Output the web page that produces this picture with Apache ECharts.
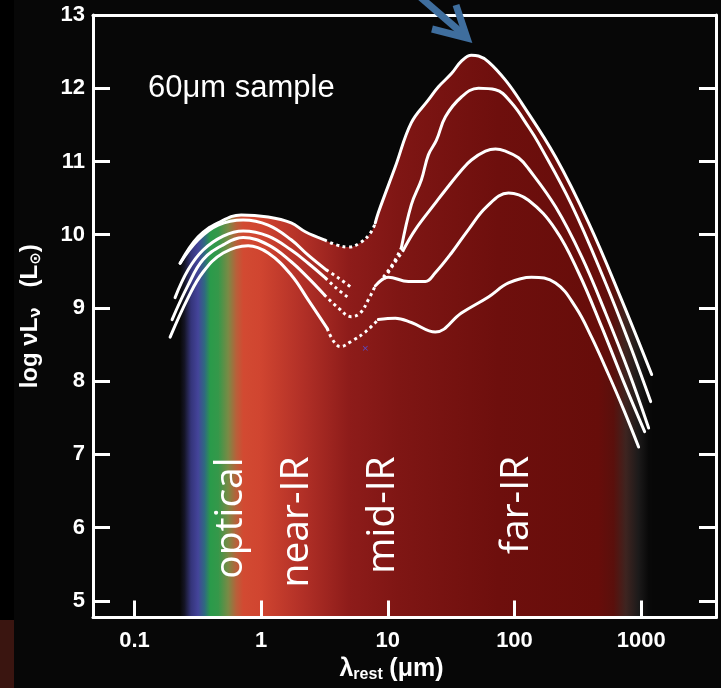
<!DOCTYPE html>
<html><head><meta charset="utf-8">
<script src="https://cdn.jsdelivr.net/npm/echarts@6/dist/echarts.min.js"></script>
<style>html,body{margin:0;padding:0;background:#070707;}#c{width:721px;height:688px;}</style>
</head><body><div id="c"></div>
<script>
// ---- axis settings / tick labels ----
const X_MIN = 0.047, X_MAX = 3900;     // wavelength (micron), log axis
const Y_MIN = 4.77, Y_MAX = 13;        // log nu L_nu (L_sun)
const xTickLabels = {'-1':'0.1','0':'1','1':'10','2':'100','3':'1000'};
const yTickLabels = ['5','6','7','8','9','10','11','12','13'];
const regionNames = ['optical','near-IR','mid-IR','far-IR'];

// ---- curves: [lambda_rest (micron), log nuLnu] ----
// A (top, highest far-IR peak)
const A_optNir = [[0.229,9.61],[0.318,9.97],[0.457,10.16],[0.695,10.27],[1.136,10.24],[1.726,10.16],[2.23,10.04],[3.15,9.93]];
const A_mir    = [[3.15,9.93],[3.92,9.86],[4.87,9.83],[6.06,9.89],[7.27,10.02],[7.96,10.16]];
const A_fir    = [[7.96,10.16],[8.41,10.30],[11.47,10.93],[15.34,11.53],[20.9,11.84],[25.1,12.02],[31.8,12.20],[38.1,12.37],[45.7,12.45],[52.0,12.44],[62.3,12.36],[84.9,12.11],[113.6,11.80],[211,11.06],[385,10.16],[701,9.11],[1211,8.09]];
// B
const B_optNir = [[0.229,9.61],[0.318,9.93],[0.457,10.13],[0.721,10.20],[1.136,10.13],[1.726,9.93],[2.35,9.72],[3.26,9.52]];
const B_mirA   = [[3.26,9.52],[4.06,9.41],[5.05,9.29]];
const B_mirB   = [[9.21,9.42],[11.05,9.61],[12.79,9.82]];
const B_fir    = [[12.79,9.82],[15.34,10.41],[18.41,10.75],[20.9,11.09],[24.2,11.29],[28.5,11.61],[38.1,11.88],[51.9,12.00],[70.8,11.98],[94.6,11.80],[129.1,11.47],[154.9,11.25],[282,10.41],[524,9.34],[797,8.54],[1189,7.72]];
// C
const C_optNir = [[0.209,9.14],[0.265,9.52],[0.348,9.79],[0.501,9.98],[0.721,10.05],[1.136,9.98],[1.726,9.79],[2.35,9.61],[3.21,9.41]];
const C_mirA   = [[3.21,9.41],[3.92,9.27],[4.79,9.15]];
const C_mirB   = [[9.38,9.40],[11.05,9.59],[13.26,9.79]];
const C_fir    = [[13.26,9.79],[16.49,10.07],[23.7,10.43],[28.5,10.61],[38.1,10.88],[45.7,11.02],[59.0,11.14],[70.8,11.17],[84.9,11.14],[107.6,11.05],[129.1,10.90],[211,10.38],[339,9.70],[524,8.93],[797,8.13],[1146,7.36]];
// D
const D_optNir = [[0.198,8.84],[0.265,9.31],[0.348,9.66],[0.501,9.86],[0.721,9.96],[1.136,9.86],[1.726,9.63],[2.35,9.41],[3.15,9.18]];
const D_mir    = [[3.15,9.18],[4.06,9.00],[5.15,8.88],[6.06,8.93],[7.01,9.11],[7.96,9.30]];
const D_fir    = [[7.96,9.30],[10.09,9.42],[14.53,9.36],[19.78,9.36],[23.7,9.48],[31.8,9.75],[43.3,10.07],[60.1,10.38],[89.7,10.57],[129.1,10.47],[211,10.07],[321,9.48],[488,8.74],[728,7.99],[1066,7.31]];
// E (lowest far-IR)
const E_optNir = [[0.191,8.60],[0.265,9.14],[0.348,9.49],[0.501,9.75],[0.789,9.85],[1.136,9.75],[1.726,9.45],[2.35,9.11],[3.32,8.72]];
const E_mir    = [[3.32,8.72],[4.21,8.47],[5.34,8.56],[6.64,8.67],[8.41,8.84]];
const E_fir    = [[8.41,8.84],[11.47,8.86],[15.34,8.80],[23.7,8.67],[38.1,8.93],[62.3,9.15],[89.7,9.34],[136.2,9.42],[211,9.34],[304,9.01],[406,8.60],[553,8.09],[728,7.61],[955,7.10]];
// stray marker
const strayPoint = [[6.64,8.45]];

const envelope = A_optNir.concat(A_mir.slice(1), A_fir.slice(1));

const SM = 0.4;
function solid(d){return {type:'line',data:d,smooth:SM,symbol:'none',silent:true,animation:false,z:5,
  lineStyle:{color:'#ffffff',width:3,cap:'round'}};}
function dotted(d){return {type:'line',data:d,smooth:SM,symbol:'none',silent:true,animation:false,z:5,
  lineStyle:{color:'#ffffff',width:3,type:[3,3.5],cap:'butt'}};}

const fillGrad = new echarts.graphic.LinearGradient(0,0,1,0,[
  {offset:0,color:'#080808'},{offset:0.009,color:'#141424'},{offset:0.023,color:'#34347a'},
  {offset:0.038,color:'#44449a'},{offset:0.052,color:'#2f6a80'},{offset:0.064,color:'#2a9a4a'},
  {offset:0.081,color:'#35984a'},{offset:0.102,color:'#7a8a45'},{offset:0.119,color:'#b8603a'},
  {offset:0.134,color:'#d24a32'},{offset:0.17,color:'#d04530'},{offset:0.25,color:'#b53228'},
  {offset:0.357,color:'#8e1c1a'},{offset:0.463,color:'#7f1614'},{offset:0.675,color:'#6e0f0d'},
  {offset:0.887,color:'#670d0a'},{offset:0.919,color:'#5a100c'},{offset:0.945,color:'#3e2420'},
  {offset:0.972,color:'#1c1a1a'},{offset:0.994,color:'#080808'},{offset:1,color:'#080808'}]);

const series = [
  {type:'line',data:envelope,smooth:SM,symbol:'none',silent:true,animation:false,z:1,
   lineStyle:{width:0,color:'rgba(0,0,0,0)'},areaStyle:{color:fillGrad,opacity:1,origin:'start'}},
  solid(A_optNir),dotted(A_mir),solid(A_fir),
  solid(B_optNir),dotted(B_mirA),dotted(B_mirB),solid(B_fir),
  solid(C_optNir),dotted(C_mirA),dotted(C_mirB),solid(C_fir),
  solid(D_optNir),dotted(D_mir),solid(D_fir),
  solid(E_optNir),dotted(E_mir),solid(E_fir),
  {type:'scatter',data:strayPoint,symbol:'path://M0,1L1,0L5,4L9,0L10,1L6,5L10,9L9,10L5,6L1,10L0,9L4,5Z',
   symbolSize:5,itemStyle:{color:'#4a5cff'},silent:true,animation:false,z:6}
];

const lblFont = {color:'#ffffff',fontFamily:'Liberation Sans',fontWeight:'bold',fontSize:22};
const axisLine = {show:true,onZero:false,lineStyle:{color:'#ffffff',width:3}};
const tick = {show:true,inside:true,length:17,lineStyle:{color:'#ffffff',width:3}};

const option = {
  backgroundColor:'#070707',
  animation:false,
  grid:{left:93,top:15,right:5,bottom:70,containLabel:false},
  xAxis:[
    {type:'log',logBase:10,min:X_MIN,max:X_MAX,position:'bottom',z:10,
     axisLine:axisLine,axisTick:tick,splitLine:{show:false},minorTick:{show:false},
     axisLabel:Object.assign({margin:12,showMinLabel:false,showMaxLabel:false,
       formatter:function(v){const l=Math.log10(v);const e=Math.round(l);
         if(Math.abs(l-e)>0.01)return '';return xTickLabels[String(e)]||'';}},lblFont),
     name:'{l|λ}{s|rest}  {l|(μm)}',nameLocation:'middle',nameGap:34,
     nameTextStyle:{padding:[0,26,0,0],rich:{
       l:{color:'#fff',fontFamily:'Liberation Sans',fontWeight:'bold',fontSize:25,lineHeight:28},
       s:{color:'#fff',fontFamily:'Liberation Sans',fontWeight:'bold',fontSize:16,lineHeight:16,verticalAlign:'bottom'}}}},
    {type:'log',logBase:10,min:X_MIN,max:X_MAX,position:'top',z:10,
     axisLine:axisLine,axisTick:{show:false},axisLabel:{show:false},splitLine:{show:false}}
  ],
  yAxis:[
    {type:'value',min:Y_MIN,max:Y_MAX,splitNumber:8,position:'left',z:10,
     axisLine:axisLine,axisTick:tick,splitLine:{show:false},
     axisLabel:Object.assign({margin:8,showMinLabel:false,
       formatter:function(v){const r=Math.round(v);if(Math.abs(v-r)>1e-6)return '';
         const s=String(r);return yTickLabels.indexOf(s)>=0?s:'';}},lblFont),
     name:'{b|log νL}{s|ν}{b|   (L}{s|⊙}{b|)}',nameLocation:'middle',nameGap:49,nameRotate:90,
     nameTextStyle:{padding:[0,0,0,0],rich:{
       b:{color:'#fff',fontFamily:'Liberation Sans',fontWeight:'bold',fontSize:24,lineHeight:28},
       s:{color:'#fff',fontFamily:'DejaVu Sans',fontWeight:'bold',fontSize:15,lineHeight:15,verticalAlign:'bottom'}}}},
    {type:'value',min:Y_MIN,max:Y_MAX,splitNumber:8,position:'right',z:10,
     axisLine:axisLine,axisTick:tick,splitLine:{show:false},axisLabel:{show:false}}
  ],
  series:series,
  graphic:[
    {type:'rect',shape:{x:0,y:0,width:14,height:620},style:{fill:'#000000'},z:0,silent:true},
    {type:'rect',shape:{x:0,y:620,width:14,height:68},style:{fill:'#3a1510'},z:0,silent:true},
    {type:'text',x:148,y:88,z:20,silent:true,style:{text:'60μm sample',fill:'#ffffff',
      font:'31px "Liberation Sans"',textAlign:'left',textVerticalAlign:'middle'}},
    {type:'text',x:231,y:518,rotation:Math.PI/2,z:20,silent:true,style:{text:regionNames[0],fill:'#ffffff',
      font:'39px "Open Sans"',textAlign:'center',textVerticalAlign:'middle'}},
    {type:'text',x:297,y:522,rotation:Math.PI/2,z:20,silent:true,style:{text:regionNames[1],fill:'#ffffff',
      font:'39px "Open Sans"',textAlign:'center',textVerticalAlign:'middle'}},
    {type:'text',x:383,y:515,rotation:Math.PI/2,z:20,silent:true,style:{text:regionNames[2],fill:'#ffffff',
      font:'39px "Open Sans"',textAlign:'center',textVerticalAlign:'middle'}},
    {type:'text',x:517,y:505,rotation:Math.PI/2,z:20,silent:true,style:{text:regionNames[3],fill:'#ffffff',
      font:'39px "Open Sans"',textAlign:'center',textVerticalAlign:'middle'}},
    {type:'polyline',z:20,silent:true,shape:{points:[[419,-4],[463,34]]},
      style:{stroke:'#3f6e9e',lineWidth:7,fill:null}},
    {type:'polyline',z:20,silent:true,shape:{points:[[432,29],[467,38],[456,5]]},
      style:{stroke:'#3f6e9e',lineWidth:7,fill:null,lineJoin:'miter'}}
  ]
};
const chart = echarts.init(document.getElementById('c'),null,{renderer:'canvas'});
chart.setOption(option);
</script></body></html>
